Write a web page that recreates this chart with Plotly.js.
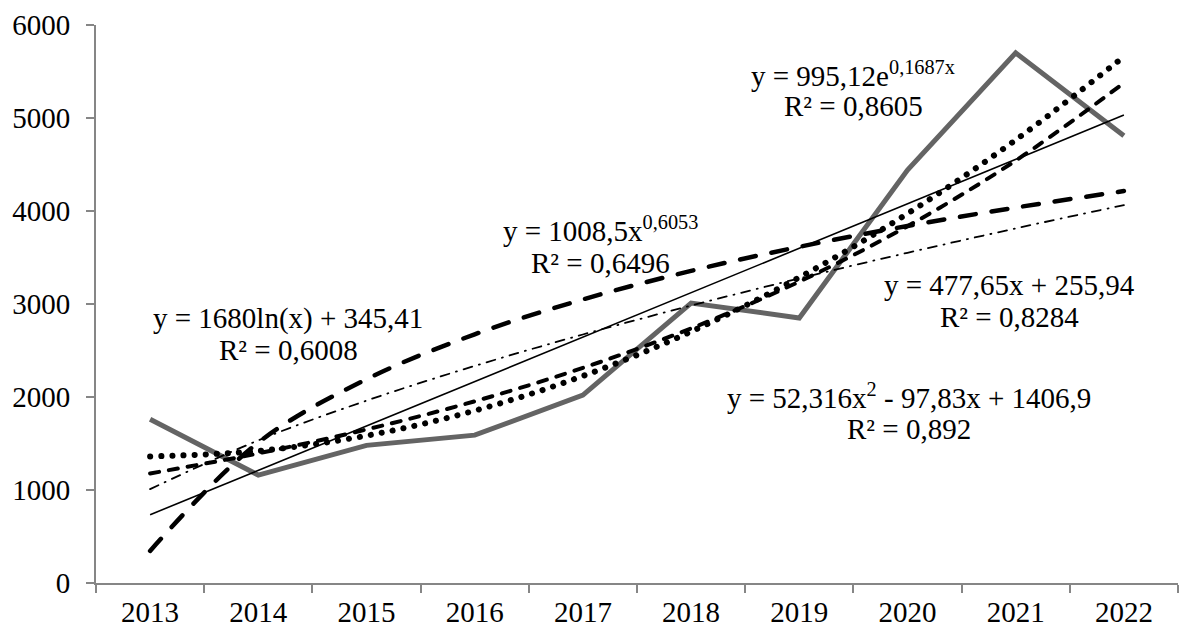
<!DOCTYPE html>
<html>
<head>
<meta charset="utf-8">
<script src="https://cdn.plot.ly/plotly-3.0.1.min.js"></script>
<style>
  html, body { margin: 0; padding: 0; background: #fff; }
  #chart { width: 1194px; height: 630px; }
  .trend-round .js-line { stroke-linecap: round !important; }
</style>
</head>
<body>
<div id="chart"></div>
<script>
// Categories (years)
const years = ['2013','2014','2015','2016','2017','2018','2019','2020','2021','2022'];

const actual = [1760, 1160, 1480, 1590, 2020, 3010, 2850, 4440, 5700, 4810];

// Trend line values read at each year
const trendLinear = [734, 1211, 1689, 2167, 2644, 3122, 3599, 4077, 4555, 5032];
const trendLog    = [345, 1510, 2191, 2674, 3049, 3356, 3615, 3839, 4037, 4214];
const trendPower  = [1009, 1534, 1961, 2334, 2672, 2983, 3275, 3551, 3813, 4064];
const trendExp    = [1178, 1394, 1651, 1954, 2313, 2738, 3241, 3837, 4542, 5377];
const trendPoly   = [1361, 1420, 1584, 1853, 2226, 2703, 3286, 3972, 4764, 5660];

// Trend line labels
const eqLog    = ['y = 1680ln(x) + 345,41', 'R² = 0,6008'];
const eqPower  = ['y = 1008,5x<sup>0,6053</sup>', 'R² = 0,6496'];
const eqExp    = ['y = 995,12e<sup>0,1687x</sup>', 'R² = 0,8605'];
const eqLinear = ['y = 477,65x + 255,94', 'R² = 0,8284'];
const eqPoly   = ['y = 52,316x<sup>2</sup> - 97,83x + 1406,9', 'R² = 0,892'];

const FONT = 'Liberation Serif, Times New Roman, serif';
const FS = 29;

const traces = [
  { x: years, y: actual, type: 'scatter', mode: 'lines',
    line: { color: '#646464', width: 5 }, hoverinfo: 'skip' },
  { x: years, y: trendLinear, type: 'scatter', mode: 'lines',
    line: { color: '#000', width: 1.6 }, hoverinfo: 'skip' },
  { x: years, y: trendLog, type: 'scatter', mode: 'lines',
    line: { color: '#000', width: 4.5, dash: '16px,16px', shape: 'spline', smoothing: 1 }, hoverinfo: 'skip' },
  { x: years, y: trendPower, type: 'scatter', mode: 'lines',
    line: { color: '#000', width: 1.8, dash: '9px,7px,1px,7px', shape: 'spline', smoothing: 1 }, hoverinfo: 'skip' },
  { x: years, y: trendExp, type: 'scatter', mode: 'lines',
    line: { color: '#000', width: 4, dash: '9px,10px', shape: 'spline', smoothing: 1 }, hoverinfo: 'skip' },
  { x: years, y: trendPoly, type: 'scatter', mode: 'lines',
    line: { color: '#000', width: 6, dash: '0.1px,11px', shape: 'spline', smoothing: 1 }, hoverinfo: 'skip' }
];

function eqAnn(lines, xc, y1, y2) {
  return [
    { xref: 'paper', yref: 'paper', x: xc, y: y1, text: lines[0], showarrow: false,
      xanchor: 'center', yanchor: 'middle', font: { family: FONT, size: FS, color: '#000' } },
    { xref: 'paper', yref: 'paper', x: xc, y: y2, text: lines[1], showarrow: false,
      xanchor: 'center', yanchor: 'middle', font: { family: FONT, size: FS, color: '#000' } }
  ];
}

// convert pixel positions to paper coordinates
const L = 96, R = 16, T = 25, B = 47, W = 1194, H = 630;
const pw = W - L - R, ph = H - T - B;
const px = v => (v - L) / pw;
const py = v => (H - B - v) / ph;

const annotations = [].concat(
  eqAnn(eqLog, px(288), py(318), py(350)),
  eqAnn(eqPower, px(600), py(229), py(263)),
  eqAnn(eqExp, px(853), py(74), py(106)),
  eqAnn(eqLinear, px(1009), py(285), py(317)),
  eqAnn(eqPoly, px(909), py(396), py(429))
);

const layout = {
  width: W, height: H,
  margin: { l: L, r: R, t: T, b: B, pad: 0 },
  paper_bgcolor: '#fff', plot_bgcolor: '#fff',
  showlegend: false,
  font: { family: FONT, size: FS, color: '#000' },
  xaxis: {
    type: 'category', range: [-0.5, 9.5],
    showgrid: false, zeroline: false,
    showline: true, linecolor: '#868686', linewidth: 2,
    ticks: 'outside', tickson: 'boundaries', ticklen: 8, tickcolor: '#868686', tickwidth: 2,
    tickfont: { family: FONT, size: FS, color: '#000' },
    ticklabelstandoff: 2
  },
  yaxis: {
    range: [0, 6000], dtick: 1000,
    showgrid: false, zeroline: false,
    showline: true, linecolor: '#868686', linewidth: 2,
    ticks: 'outside', ticklen: 8, tickcolor: '#868686', tickwidth: 2,
    tickfont: { family: FONT, size: FS, color: '#000' },
    ticklabelstandoff: 10
  },
  annotations: annotations
};

Plotly.newPlot('chart', traces, layout, { staticPlot: true, displayModeBar: false }).then(() => {
  const groups = document.querySelectorAll('.scatterlayer .trace');
  groups.forEach((g, i) => { if (i >= 2) g.classList.add('trend-round'); });
});
</script>
</body>
</html>
